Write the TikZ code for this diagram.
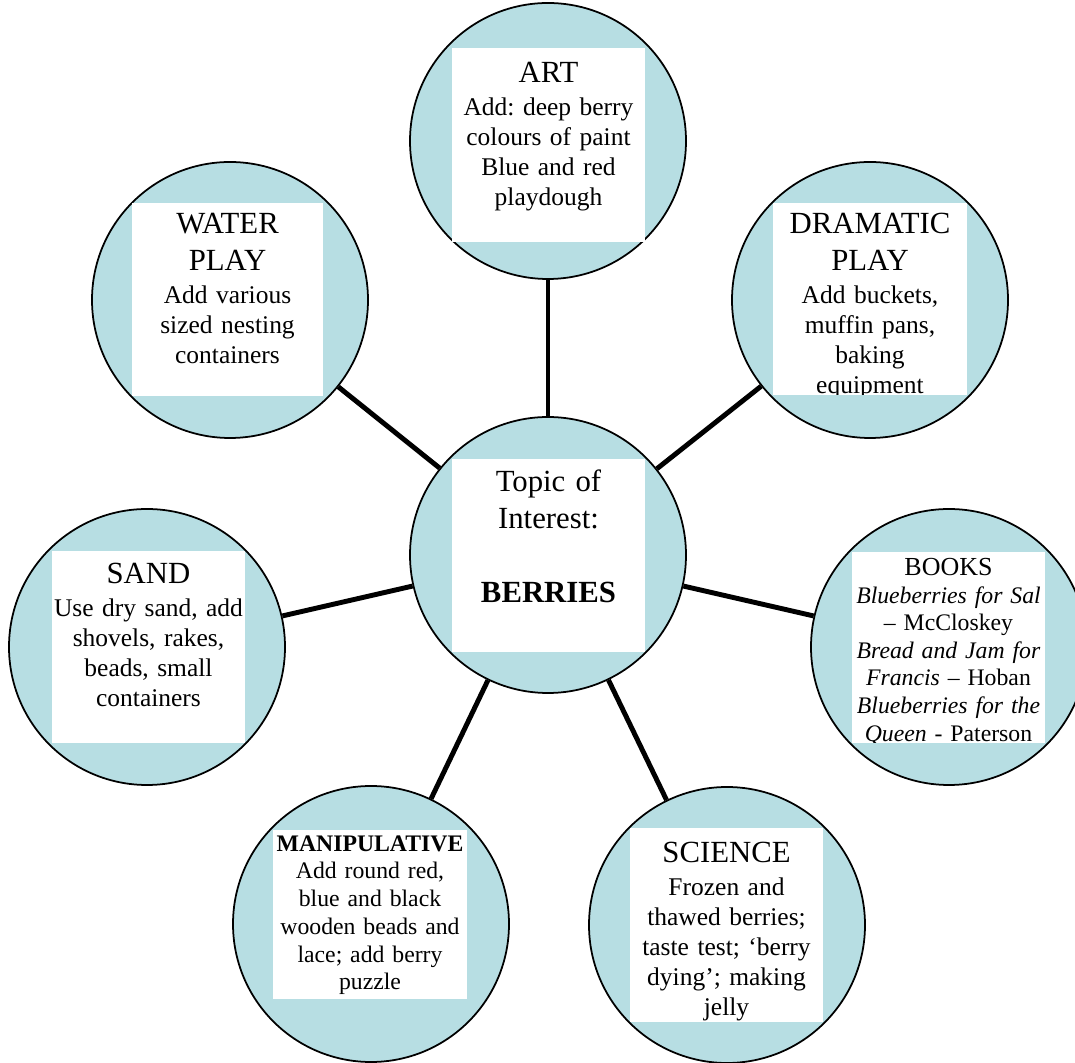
\documentclass[tikz,border=0pt]{standalone}
\usepackage{fontspec}
\setmainfont{Liberation Serif}
\frenchspacing
\newcommand{\areaname}[1]{{\fontsize{17.5}{21}\selectfont #1}}
\begin{document}
\begin{tikzpicture}[
  area/.style={circle,draw=black,line width=1pt,fill=areafill,minimum size=5.52cm,inner sep=0pt},
  areatext/.style={anchor=north,align=center,inner sep=0pt,text width=3.9cm,font=\fontsize{14.5}{17}\selectfont},
  spoke/.style={line width=2.8pt}
]
\definecolor{areafill}{RGB}{183,222,227}
\useasboundingbox (0,0) rectangle (21.5,21.24);
% circles
\node [area] (art) at (10.96,18.42) {};
\node [area] (water) at (4.60,15.24) {};
\node [area] (dramatic) at (17.40,15.24) {};
\node [area] (topic) at (10.96,10.14) {};
\node [area] (sand) at (2.94,8.30) {};
\node [area] (books) at (18.98,8.30) {};
\node [area] (manip) at (7.42,2.76) {};
\node [area] (science) at (14.54,2.74) {};
% spokes
\draw [spoke] (topic) -- (art);
\draw [spoke] (topic) -- (water);
\draw [spoke] (topic) -- (dramatic);
\draw [spoke] (topic) -- (sand);
\draw [spoke] (topic) -- (books);
\draw [spoke] (topic) -- (manip);
\draw [spoke] (topic) -- (science);
% white panels with text
\begin{scope}
\clip (9.04,16.40) rectangle (12.90,20.28);
\fill [white] (9.04,16.40) rectangle (12.90,20.28);
\node [areatext] (arttext) at (10.97,20.00) {\areaname{ART}\\[1.7pt]
  Add: deep berry\\ colours of paint\\ Blue and red\\ playdough};
\end{scope}
\begin{scope}
\clip (2.64,13.32) rectangle (6.46,17.18);
\fill [white] (2.64,13.32) rectangle (6.46,17.18);
\node [areatext] (watertext) at (4.55,16.98) {\areaname{WATER}\\[4pt]\areaname{PLAY}\\[1.7pt]
  Add various\\ sized nesting\\ containers};
\end{scope}
\begin{scope}
\clip (15.46,13.34) rectangle (19.34,17.18);
\fill [white] (15.46,13.34) rectangle (19.34,17.18);
\node [areatext] (dramatictext) at (17.40,16.98) {\areaname{DRAMATIC}\\[4pt]\areaname{PLAY}\\[1.7pt]
  Add buckets,\\ muffin pans,\\ baking\\ equipment};
\end{scope}
\begin{scope}
\clip (9.04,8.20) rectangle (12.90,12.06);
\fill [white] (9.04,8.20) rectangle (12.90,12.06);
\node [areatext,font=\fontsize{17.5}{21}\selectfont] (topictext) at (10.97,11.84) {Topic of\\ Interest:\\[21pt]
  \textbf{BERRIES}};
\end{scope}
\begin{scope}
\clip (1.04,6.38) rectangle (4.90,10.22);
\fill [white] (1.04,6.38) rectangle (4.90,10.22);
\node [areatext] (sandtext) at (2.97,9.98) {\areaname{SAND}\\[1.7pt]
  Use dry sand, add\\ shovels, rakes,\\ beads, small\\ containers};
\end{scope}
\begin{scope}
\clip (17.04,6.38) rectangle (20.90,10.20);
\fill [white] (17.04,6.38) rectangle (20.90,10.20);
\node [areatext,font=\fontsize{13.5}{15.7}\selectfont] (bookstext) at (18.97,10.08) {{\fontsize{14.8}{18}\selectfont BOOKS}\\
  \textit{Blueberries for Sal}\\ -- McCloskey\\ \textit{Bread and Jam for}\\
  \textit{Francis} -- Hoban\\ \textit{Blueberries for the}\\ \textit{Queen} - Paterson};
\end{scope}
\begin{scope}
\clip (5.46,1.26) rectangle (9.34,4.64);
\fill [white] (5.46,1.26) rectangle (9.34,4.64);
\node [areatext,font=\fontsize{13.5}{15.8}\selectfont] (maniptext) at (7.40,4.54) {\textbf{MANIPULATIVE}\\
  Add round red,\\ blue and black\\ wooden beads and\\ lace; add berry\\ puzzle};
\end{scope}
\begin{scope}
\clip (12.60,0.80) rectangle (16.46,4.68);
\fill [white] (12.60,0.80) rectangle (16.46,4.68);
\node [areatext] (sciencetext) at (14.53,4.40) {\areaname{SCIENCE}\\[1.7pt]
  Frozen and\\ thawed berries;\\ taste test; `berry\\ dying'; making\\ jelly};
\end{scope}
\end{tikzpicture}
\end{document}
